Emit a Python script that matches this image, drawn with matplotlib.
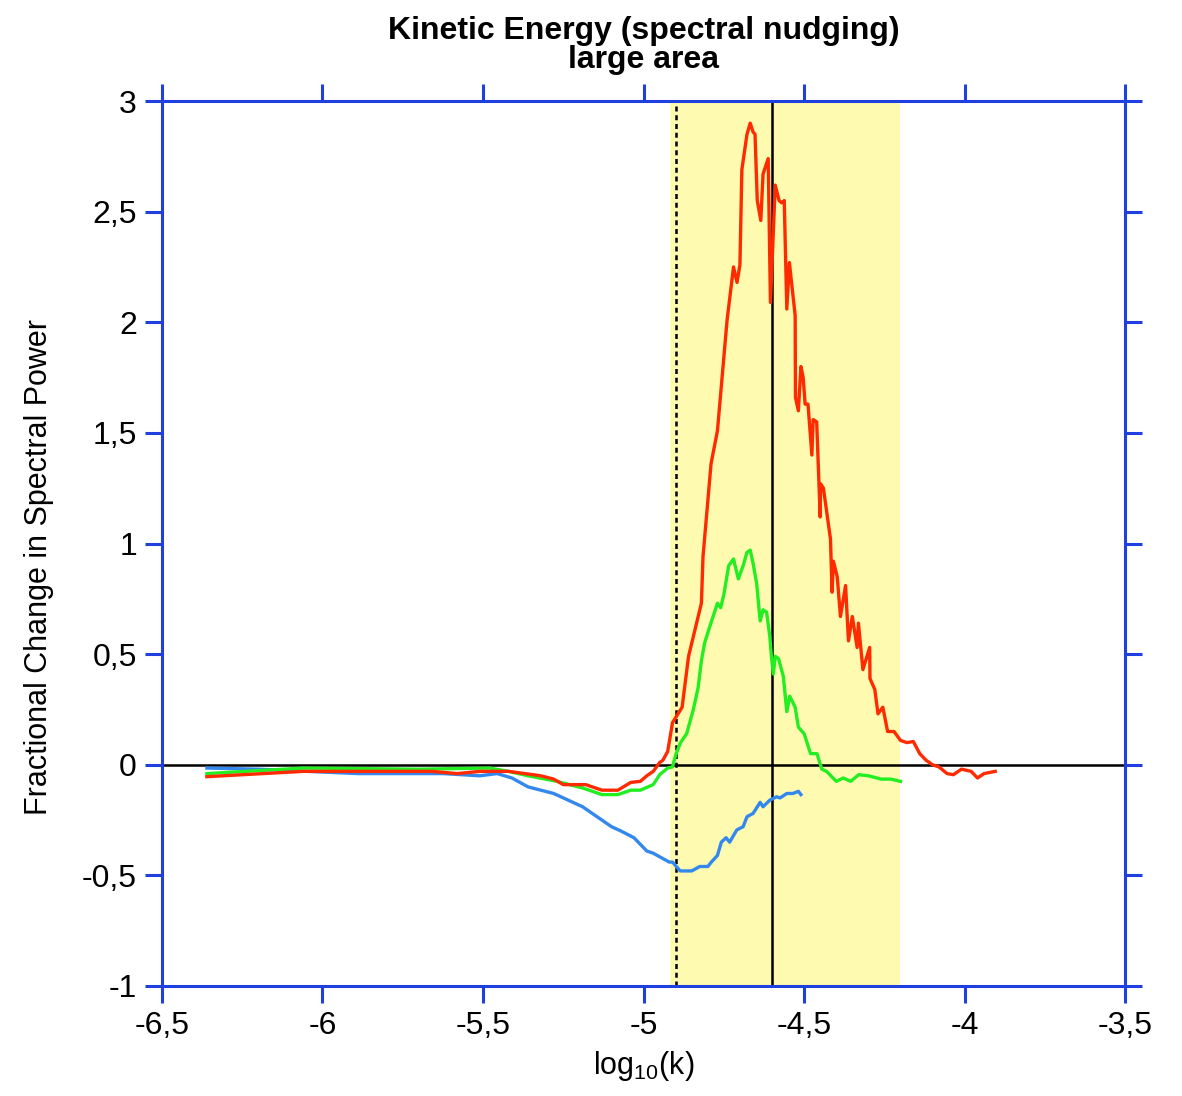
import matplotlib
matplotlib.use("Agg")
import matplotlib.pyplot as plt
from matplotlib.ticker import FuncFormatter, MultipleLocator

plt.rcParams['font.family'] = ['Liberation Sans', 'DejaVu Sans']
plt.rcParams['mathtext.default'] = 'regular'

# red curve
red_x = [-6.36, -6.06, -5.66, -5.58, -5.51, -5.42, -5.32, -5.28, -5.25, -5.18, -5.13, -5.08,
         -5.04, -5.01, -4.99, -4.97, -4.95, -4.94, -4.925, -4.91, -4.88, -4.86, -4.845, -4.82,
         -4.815, -4.79, -4.77, -4.74, -4.72, -4.709, -4.70, -4.694, -4.678, -4.668, -4.659,
         -4.653, -4.646, -4.635, -4.628, -4.612, -4.605, -4.59, -4.578, -4.57, -4.562, -4.554,
         -4.546, -4.528, -4.527, -4.518, -4.51, -4.503, -4.497, -4.488, -4.476, -4.472, -4.461,
         -4.45, -4.449, -4.44, -4.418, -4.413, -4.409, -4.397, -4.387, -4.371, -4.362, -4.35,
         -4.335, -4.331, -4.317, -4.296, -4.295, -4.28, -4.27, -4.255, -4.24, -4.22, -4.20,
         -4.18, -4.16, -4.14, -4.12, -4.10, -4.08, -4.055, -4.035, -4.01, -3.98, -3.96, -3.94,
         -3.905]
red_y = [-0.054, -0.03, -0.03, -0.04, -0.03, -0.03, -0.05, -0.065, -0.09, -0.09, -0.115, -0.115,
         -0.08, -0.075, -0.05, -0.03, 0.01, 0.02, 0.06, 0.19, 0.26, 0.49, 0.58, 0.73,
         0.94, 1.36, 1.51, 2.01, 2.25, 2.18, 2.26, 2.69, 2.85, 2.90, 2.86,
         2.85, 2.55, 2.46, 2.67, 2.74, 2.09, 2.62, 2.55, 2.54, 2.55, 2.06,
         2.27, 2.03, 1.66, 1.60, 1.80, 1.75, 1.63, 1.63, 1.40, 1.56, 1.55,
         1.12, 1.27, 1.25, 1.02, 0.78, 0.92, 0.85, 0.67, 0.81, 0.56, 0.67,
         0.53, 0.64, 0.43, 0.53, 0.39, 0.34, 0.23, 0.26, 0.15, 0.15, 0.11,
         0.10, 0.105, 0.05, 0.02, 0.0, -0.01, -0.04, -0.045, -0.02, -0.03, -0.06, -0.04,
         -0.03]

# green curve
green_x = [-6.36, -6.06, -5.70, -5.48, -5.42, -5.36, -5.27, -5.19, -5.13, -5.08, -5.04, -5.01,
           -4.97, -4.95, -4.925, -4.91, -4.90, -4.885, -4.866, -4.845, -4.83, -4.82, -4.81,
           -4.795, -4.77, -4.76, -4.75, -4.735, -4.72, -4.705, -4.69, -4.678, -4.668, -4.659,
           -4.648, -4.637, -4.628, -4.617, -4.607, -4.602, -4.596, -4.59, -4.58, -4.565, -4.554,
           -4.545, -4.528, -4.518, -4.50, -4.48, -4.46, -4.445, -4.43, -4.40, -4.378, -4.355,
           -4.33, -4.30, -4.26, -4.23, -4.20]
green_y = [-0.04, -0.015, -0.02, -0.015, -0.03, -0.05, -0.075, -0.105, -0.135, -0.135, -0.115, -0.115,
           -0.09, -0.045, -0.015, -0.01, 0.045, 0.10, 0.14, 0.25, 0.35, 0.47, 0.55,
           0.62, 0.73, 0.71, 0.77, 0.90, 0.93, 0.84, 0.90, 0.96, 0.97, 0.91,
           0.82, 0.65, 0.70, 0.69, 0.58, 0.49, 0.41, 0.49, 0.48, 0.40, 0.24,
           0.31, 0.26, 0.17, 0.14, 0.05, 0.05, -0.02, -0.03, -0.075, -0.06, -0.075,
           -0.045, -0.05, -0.065, -0.065, -0.075]

# blue curve
blue_x = [-6.36, -6.20, -5.89, -5.625, -5.51, -5.456, -5.41, -5.36, -5.28, -5.19, -5.13, -5.10,
          -5.07, -5.03, -5.01, -4.99, -4.97, -4.92, -4.91, -4.886, -4.85, -4.825, -4.80, -4.789,
          -4.77, -4.758, -4.743, -4.732, -4.71, -4.69, -4.678, -4.659, -4.637, -4.628, -4.607,
          -4.586, -4.575, -4.554, -4.535, -4.518, -4.51]
blue_y = [-0.015, -0.02, -0.04, -0.04, -0.05, -0.04, -0.06, -0.10, -0.13, -0.19, -0.25, -0.28,
          -0.30, -0.33, -0.36, -0.39, -0.40, -0.44, -0.44, -0.48, -0.48, -0.46, -0.46, -0.44,
          -0.41, -0.35, -0.33, -0.35, -0.295, -0.28, -0.235, -0.22, -0.17, -0.19, -0.16,
          -0.145, -0.15, -0.13, -0.13, -0.12, -0.135]

band = (-4.917, -4.20)
dashed_x = -4.9
solid_x = -4.6

fig = plt.figure(figsize=(11.82, 10.96), dpi=100)
ax = fig.add_axes([0.137, 0.1004, 0.815, 0.8074])

ax.axvspan(band[0], band[1], color='#fefbb0', zorder=0, lw=0)
ax.axhline(0, color='black', lw=1.8, zorder=1)
ax.axvline(solid_x, color='black', lw=1.8, zorder=1)
ax.axvline(dashed_x, color='black', lw=1.8, ls=(0, (2, 1.5)), zorder=1)

ax.plot(blue_x, blue_y, color='#3388ee', lw=2.4, zorder=3)
ax.plot(green_x, green_y, color='#22ee22', lw=2.4, zorder=3)
ax.plot(red_x, red_y, color='#ff2a00', lw=2.4, zorder=4)

ax.set_xlim(-6.5, -3.5)
ax.set_ylim(-1, 3)
ax.xaxis.set_major_locator(MultipleLocator(0.5))
ax.yaxis.set_major_locator(MultipleLocator(0.5))
fmt = FuncFormatter(lambda v, p: ('%g' % v).replace('.', ','))
ax.xaxis.set_major_formatter(fmt)
ax.yaxis.set_major_formatter(fmt)

blue = '#1f3fdf'
for s in ax.spines.values():
    s.set_color(blue)
    s.set_linewidth(2.2)
ax.tick_params(which='both', direction='out', length=12, width=2.2, color=blue,
               labelsize=23, top=True, right=True, pad=6)

ax.set_xlabel(r'log$_{10}$(k)', fontsize=22, labelpad=6)
ax.set_ylabel('Fractional Change in Spectral Power', fontsize=22)
ax.yaxis.set_label_coords(-0.112, 0.473)
ax.set_title('Kinetic Energy (spectral nudging)\nlarge area', fontsize=23,
             fontweight='bold', pad=24, linespacing=0.95)

fig.savefig('out.png', dpi=100)
